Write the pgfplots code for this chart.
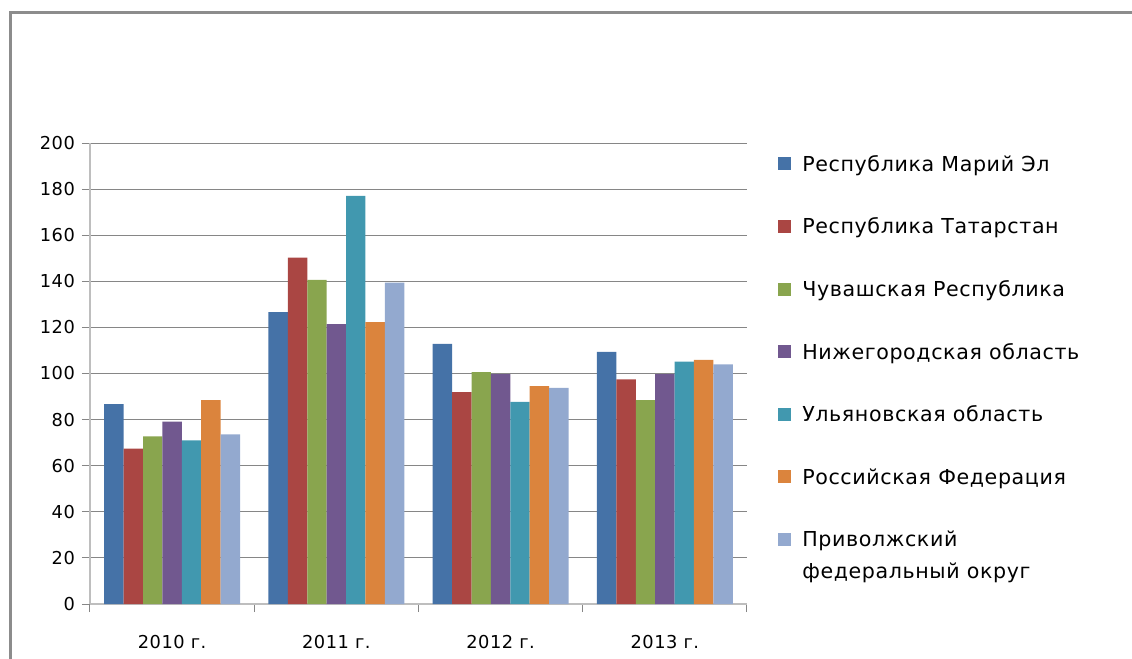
\documentclass[border=0pt]{standalone}
\usepackage{fontspec}
\setmainfont[LetterSpace=3]{DejaVu Sans}
\usepackage{pgfplots}
\usepackage{pgfplotstable}
\pgfplotsset{compat=1.18}

\definecolor{cA}{HTML}{4572A7}
\definecolor{cB}{HTML}{AA4643}
\definecolor{cC}{HTML}{89A54E}
\definecolor{cD}{HTML}{71588F}
\definecolor{cE}{HTML}{4198AF}
\definecolor{cF}{HTML}{DB843D}
\definecolor{cG}{HTML}{93A9CF}
\definecolor{gridgray}{HTML}{868686}
\definecolor{axisgray}{HTML}{BEBEBE}
\definecolor{framegray}{HTML}{8C8C8C}

% index values by year (0 = 2010 ... 3 = 2013)
\pgfplotstableread{
x   marij  tatar  chuv   nizh   ulyan  rf     pfo
0   86.7   67.4   72.7   79.1   71.0   88.4   73.6
1   126.6  150.3  140.6  121.4  177.1  122.3  139.4
2   112.9  91.9   100.6  99.7   87.7   94.5   93.8
3   109.4  97.4   88.4   99.7   105.1  105.9  104.0
}\data

\begin{document}
\begin{tikzpicture}
% 1 px of the reference = 0.5pt
\useasboundingbox (0,0) rectangle (566pt,-329.5pt);
\draw[line width=1.5pt, framegray] (5pt,-329.5pt) -- (5pt,-6.25pt) -- (566pt,-6.25pt);
\begin{axis}[
    at={(45pt,-302pt)}, anchor=south west,
    scale only axis,
    width=328.5pt, height=230.5pt,
    ybar=0pt, bar width=9.7pt,
    xmin=-0.5, xmax=3.5,
    ymin=0, ymax=200,
    axis lines*=left,
    axis line style={axisgray, line width=1pt},
    ytick={0,20,...,200},
    ymajorgrids=true,
    grid style={gridgray, line width=0.5pt},
    tick align=outside,
    major tick length=4pt,
    tick style={gridgray, line width=0.5pt},
    % tick marks between the years, names under the groups
    xtick={-0.5,0.5,1.5,2.5,3.5},
    xticklabels={},
    extra x ticks={0,1,2,3},
    extra x tick labels={2010 г., 2011 г., 2012 г., 2013 г.},
    extra x tick style={grid=none, major tick length=0pt,
        xticklabel style={font=\fontsize{8.9}{10}\selectfont, yshift=-12pt}},
    yticklabel style={font=\fontsize{8.9}{10}\selectfont},
    /pgf/number format/assume math mode=true,
    legend cell align=left,
    legend image code/.code={\fill[#1] (0pt,0.5pt) rectangle (6.5pt,7pt);},
    legend style={
        at={(1.047,0.972)}, anchor=north west,
        draw=none, fill=none, inner sep=0pt,
        font=\fontsize{10.3}{16}\selectfont,
        row sep=21.8pt, column sep=5.5pt,
        nodes={inner sep=0pt, anchor=base west, text height=7.5pt, text depth=2pt},
    },
]
\addplot[fill=cA, draw=none] table[x=x, y=marij] {\data};
\addlegendentry{Республика Марий Эл}
\addplot[fill=cB, draw=none] table[x=x, y=tatar] {\data};
\addlegendentry{Республика Татарстан}
\addplot[fill=cC, draw=none] table[x=x, y=chuv] {\data};
\addlegendentry{Чувашская Республика}
\addplot[fill=cD, draw=none] table[x=x, y=nizh] {\data};
\addlegendentry{Нижегородская область}
\addplot[fill=cE, draw=none] table[x=x, y=ulyan] {\data};
\addlegendentry{Ульяновская область}
\addplot[fill=cF, draw=none] table[x=x, y=rf] {\data};
\addlegendentry{Российская Федерация}
\addplot[fill=cG, draw=none] table[x=x, y=pfo] {\data};
\addlegendentry{\begin{tabular}[t]{@{}l@{}}Приволжский\\федеральный округ\end{tabular}}
\end{axis}
\end{tikzpicture}
\end{document}
